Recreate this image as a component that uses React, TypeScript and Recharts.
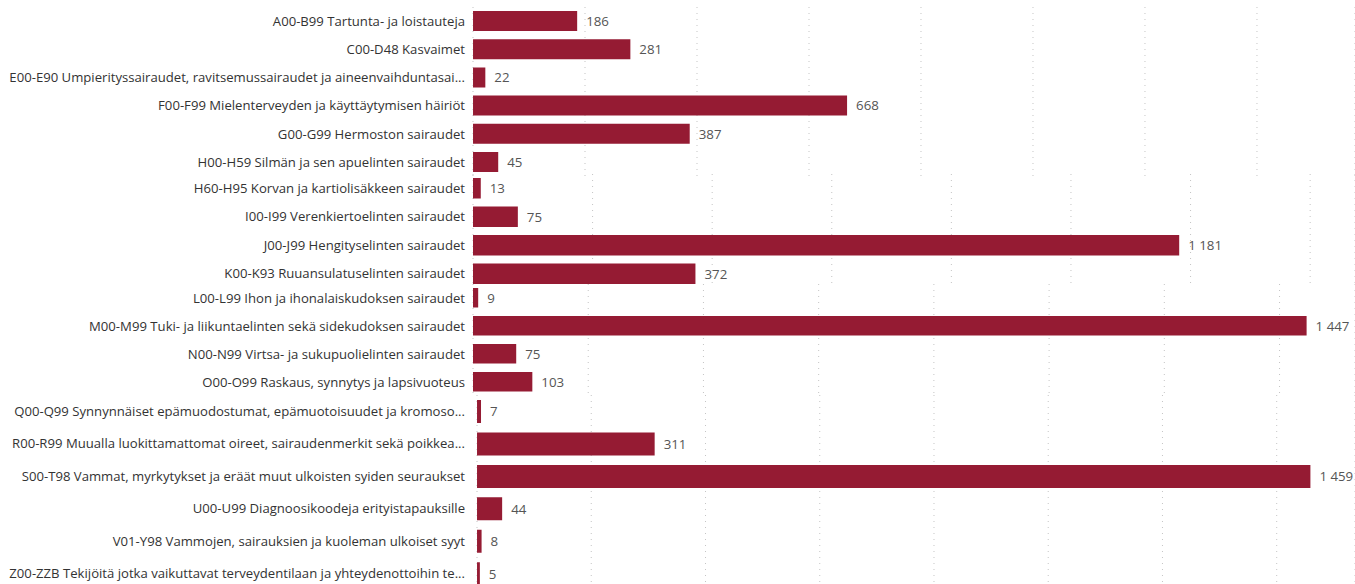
import React from 'react';
import { BarChart, Bar, XAxis, YAxis, CartesianGrid, LabelList } from 'recharts';

const categories = [
  'A00-B99 Tartunta- ja loistauteja',
  'C00-D48 Kasvaimet',
  'E00-E90 Umpierityssairaudet, ravitsemussairaudet ja aineenvaihduntasai...',
  'F00-F99 Mielenterveyden ja käyttäytymisen häiriöt',
  'G00-G99 Hermoston sairaudet',
  'H00-H59 Silmän ja sen apuelinten sairaudet',
  'H60-H95 Korvan ja kartiolisäkkeen sairaudet',
  'I00-I99 Verenkiertoelinten sairaudet',
  'J00-J99 Hengityselinten sairaudet',
  'K00-K93 Ruuansulatuselinten sairaudet',
  'L00-L99 Ihon ja ihonalaiskudoksen sairaudet',
  'M00-M99 Tuki- ja liikuntaelinten sekä sidekudoksen sairaudet',
  'N00-N99 Virtsa- ja sukupuolielinten sairaudet',
  'O00-O99 Raskaus, synnytys ja lapsivuoteus',
  'Q00-Q99 Synnynnäiset epämuodostumat, epämuotoisuudet ja kromoso...',
  'R00-R99 Muualla luokittamattomat oireet, sairaudenmerkit sekä poikkea...',
  'S00-T98 Vammat, myrkytykset ja eräät muut ulkoisten syiden seuraukset',
  'U00-U99 Diagnoosikoodeja erityistapauksille',
  'V01-Y98 Vammojen, sairauksien ja kuoleman ulkoiset syyt',
  'Z00-ZZB Tekijöitä jotka vaikuttavat terveydentilaan ja yhteydenottoihin te...',
];

const values = [186, 281, 22, 668, 387, 45, 13, 75, 1181, 372, 9, 1447, 75, 103, 7, 311, 1459, 44, 8, 5];

const gridTicks = [0, 200, 400, 600, 800, 1000, 1200, 1400];

// layout of the stitched panels (row index ranges and geometry)
const sections = [
  { start: 0, end: 6, top: 7.2, height: 169.2, xMax: 1575, axisWidth: 473, barSize: 20, tickMargin: 2 },
  { start: 6, end: 10, top: 174, height: 114, xMax: 1475, axisWidth: 473, barSize: 20.5, tickMargin: 2 },
  { start: 10, end: 14, top: 283.5, height: 112, xMax: 1531, axisWidth: 473, barSize: 19.5, tickMargin: 2 },
  { start: 14, end: 20, top: 394.8, height: 194.7, xMax: 1537, axisWidth: 477, barSize: 23, tickMargin: 6 },
];

const FONT = "'Segoe UI', 'Open Sans', sans-serif";
const BAR_COLOR = '#951B33';

const fmt = (v: any) => {
  const n = Number(v);
  if (n >= 1000) return Math.floor(n / 1000) + '\u00a0' + String(n % 1000).padStart(3, '0');
  return String(n);
};

const CategoryTick = (props: any) => {
  const { x, y, payload } = props;
  return (
    <text x={x} y={y} dy="0.36em" textAnchor="end" fill="#333333" fontSize={13.15} fontFamily={FONT}>
      {payload.value}
    </text>
  );
};

const ValueLabel = (props: any) => {
  const { x, y, width, height, value } = props;
  return (
    <text
      x={Number(x) + Number(width) + 9}
      y={Number(y) + Number(height) / 2}
      dy="0.36em"
      textAnchor="start"
      fill="#555555"
      fontSize={13.3}
      fontFamily={FONT}
    >
      {fmt(value)}
    </text>
  );
};

export default function App() {
  return (
    <div style={{ position: 'absolute', left: 0, top: 0, width: 1355, height: 584, overflow: 'hidden', background: '#fff' }}>
      {sections.map((s, si) => {
        const data = categories.slice(s.start, s.end).map((name, i) => ({ name, value: values[s.start + i] }));
        return (
          <div key={si} style={{ position: 'absolute', left: 0, top: s.top }}>
            <BarChart
              width={1355}
              height={s.height}
              data={data}
              layout="vertical"
              margin={{ top: 0, right: 0, bottom: 0, left: 0 }}
              barSize={s.barSize}
            >
              <CartesianGrid horizontal={false} vertical={true} stroke="#c4c4c4" strokeDasharray="1 5" />
              <XAxis type="number" domain={[0, s.xMax]} ticks={gridTicks} hide allowDataOverflow />
              <YAxis
                type="category"
                dataKey="name"
                width={s.axisWidth}
                axisLine={false}
                tickLine={false}
                interval={0}
                tickMargin={s.tickMargin}
                tick={<CategoryTick />}
              />
              <Bar dataKey="value" fill={BAR_COLOR} isAnimationActive={false}>
                <LabelList dataKey="value" content={<ValueLabel />} />
              </Bar>
            </BarChart>
          </div>
        );
      })}
    </div>
  );
}
